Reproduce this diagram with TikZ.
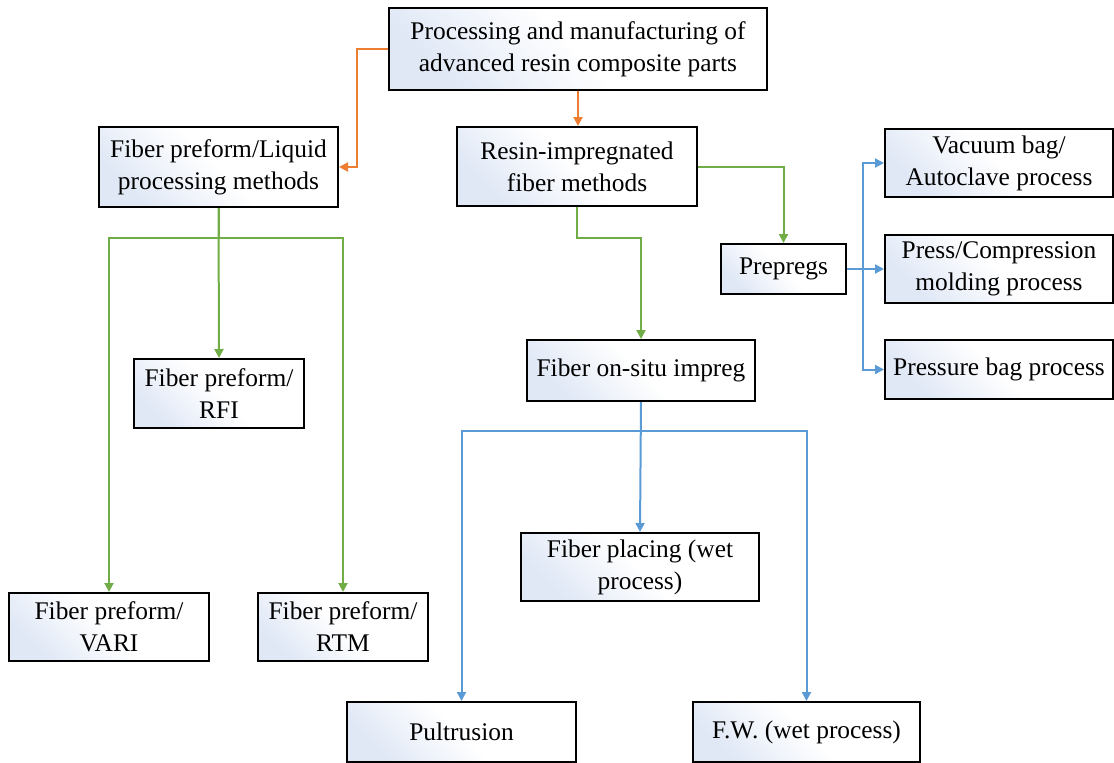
\documentclass[tikz,border=0pt]{standalone}
\usepackage{fontspec}
\setmainfont{Liberation Serif}
\usetikzlibrary{arrows.meta,positioning}
\definecolor{boxblue}{RGB}{224,232,246}
\definecolor{orangeline}{RGB}{237,125,49}
\definecolor{greenline}{RGB}{112,173,71}
\definecolor{blueline}{RGB}{91,155,213}

\begin{document}
\begin{tikzpicture}[x=0.5pt,y=-0.5pt,
    box/.style={draw,line width=1pt,inner sep=0pt,align=center,
      top color=boxblue,bottom color=white,middle color=white,shading angle=135,
      font=\fontsize{12.7}{16}\selectfont},
    link/.style={line width=1pt,-{Triangle[width=4.5pt,length=4.5pt]}}]
  \useasboundingbox (0,0) rectangle (1114,762);
  % top level
  \node[box,minimum width=189pt,minimum height=41pt](top) at (578,49)
    {Processing and manufacturing of\\advanced resin composite parts};
  \node[box,minimum width=119.5pt,minimum height=40pt](fpl) at (218.5,167)
    {Fiber preform/Liquid\\processing methods};
  \node[box,minimum width=120pt,minimum height=39.5pt](rif) at (577,166.5)
    {Resin-impregnated\\fiber methods};
  % liquid processing branch
  \node[box,minimum width=85pt,minimum height=34.5pt](rfi) at (219,393.5)
    {Fiber preform/\\RFI};
  \node[box,minimum width=100pt,minimum height=34pt](vari) at (109,627)
    {Fiber preform/\\VARI};
  \node[box,minimum width=85pt,minimum height=34pt](rtm) at (343,627)
    {Fiber preform/\\RTM};
  % prepreg branch
  \node[box,minimum width=62.5pt,minimum height=25pt](prepregs) at (783.5,269)
    {Prepregs};
  \node[box,minimum width=114pt,minimum height=34pt](vacuum) at (999,163)
    {Vacuum bag/\\Autoclave process};
  \node[box,minimum width=114pt,minimum height=34pt](press) at (999,269)
    {Press/Compression\\molding process};
  \node[box,minimum width=114pt,minimum height=29.5pt](pressure) at (999,369.5)
    {Pressure bag process};
  % on-situ branch
  \node[box,minimum width=114pt,minimum height=30.5pt](onsitu) at (641,370.5)
    {Fiber on-situ impreg};
  \node[box,minimum width=119pt,minimum height=34pt](placing) at (640,567)
    {Fiber placing (wet\\process)};
  \node[box,minimum width=114.5pt,minimum height=30pt](pult) at (461.5,732)
    {Pultrusion};
  \node[box,minimum width=113.5pt,minimum height=30pt](fw) at (806.5,732)
    {F.W. (wet process)};

  \draw[link,orangeline] (top.west) -- ++(-31,0) |- (fpl.east);
  \draw[link,orangeline] (top.south) -- (top.south |- rif.north);

  \draw[link,greenline] (fpl.south) -- (rfi.north);
  \draw[link,greenline] (fpl.south) -- ++(0,30) -| (vari.north);
  \draw[link,greenline] (fpl.south) -- ++(0,30) -| (rtm.north);
  \draw[link,greenline] (rif.south) -- ++(0,31) -| (onsitu.north);
  \draw[link,greenline] (rif.east) -| (prepregs.north);

  \draw[link,blueline] (prepregs.east) -- ++(16,0) |- (vacuum.west);
  \draw[link,blueline] (prepregs.east) -- (press.west);
  \draw[link,blueline] (prepregs.east) -- ++(16,0) |- (pressure.west);
  \draw[link,blueline] (onsitu.south) -- (placing.north);
  \draw[link,blueline] (onsitu.south) -- ++(0,29) -| (pult.north);
  \draw[link,blueline] (onsitu.south) -- ++(0,29) -| (fw.north);
\end{tikzpicture}
\end{document}
